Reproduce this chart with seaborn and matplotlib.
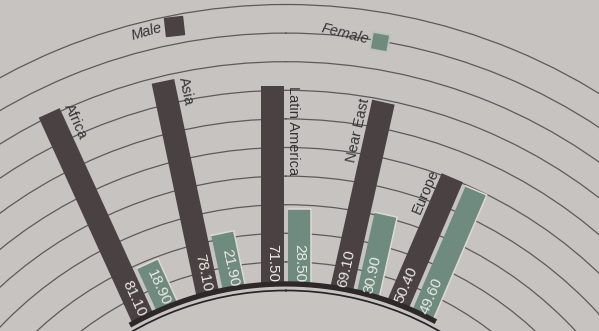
import numpy as np
import matplotlib
matplotlib.use("Agg")
import matplotlib.pyplot as plt
import seaborn as sns
from matplotlib.markers import MarkerStyle
from matplotlib.transforms import Affine2D

# ---------------- data ----------------
regions = ["Africa", "Asia", "Latin America", "Near East", "Europe"]
male = [81.10, 78.10, 71.50, 69.10, 50.40]
female = [18.90, 21.90, 28.50, 30.90, 49.60]
male_labels = ["81.10", "78.10", "71.50", "69.10", "50.40"]
female_labels = ["18.90", "21.90", "28.50", "30.90", "49.60"]
series = ["Male", "Female"]
grid_values = list(range(10, 101, 10))

# ---------------- layout ----------------
group_angles = [-24.5, -11.9, 0.0, 12.6, 23.2]   # degrees, clockwise from up
PX = 2.86                 # pixels per data unit
ORIGIN = -309.5 / PX      # radial origin (value at centre)
CX, CY = 286, 600         # centre of the arcs in pixels (from top-left)
W, H = 599, 331
RMAX = 140
BASE = 1.5
MALE_LAT = (-25.0, -2.0)  # lateral extent of bars in px
FEM_LAT = (2.0, 25.0)

sns.set_theme(style="white")
plt.rcParams["font.family"] = ["Liberation Sans", "DejaVu Sans"]

bg = "#c7c3c0"
male_c, fem_c = sns.color_palette(["#4a4242", "#6f8a7e"])
ink = "#363232"
val_c = "#ebeae3"

fig = plt.figure(figsize=(W / 100, H / 100), dpi=100, facecolor=bg)
Rpx = (RMAX - ORIGIN) * PX
ax = fig.add_axes([(CX - Rpx) / W, (H - CY - Rpx) / H, 2 * Rpx / W, 2 * Rpx / H],
                  projection="polar")
ax.set_facecolor(bg)
ax.set_theta_zero_location("N")
ax.set_theta_direction(-1)


def to_polar(phi, s_u, l_u):
    th = np.radians(phi) + np.arctan2(l_u, s_u)
    r = np.hypot(s_u, l_u) + ORIGIN
    return th, r


def draw_bar(phi, lat, value, color, highlight=False):
    s0, s1 = BASE - ORIGIN, value - ORIGIN
    l0, l1 = lat[0] / PX, lat[1] / PX
    S = np.array([s0, s1, s1, s0])
    L = np.array([l0, l0, l1, l1])
    th, r = to_polar(phi, S, L)
    ax.fill(th, r, color=color, lw=0, zorder=3)
    if highlight:
        n = 30
        s_edge = np.concatenate([np.full(n, s1), np.linspace(s1, s0, n)])
        l_edge = np.concatenate([np.linspace(l0, l1, n), np.full(n, l1)])
        th, r = to_polar(phi, s_edge, l_edge)
        ax.plot(th, r, color="#dcdbd2", lw=1.1, zorder=3.5)


for i, reg in enumerate(regions):
    phi = group_angles[i]
    draw_bar(phi, MALE_LAT, male[i], male_c)
    draw_bar(phi, FEM_LAT, female[i], fem_c, highlight=True)

    # category label
    top = male[i] - ORIGIN
    if phi <= 0:
        th, r = to_polar(phi, top, 0.0 / PX)
        ax.text(th, r, reg, rotation=-90 - phi, rotation_mode="anchor",
                ha="left", va="bottom", fontsize=10.5, color=ink, zorder=5)
    else:
        th, r = to_polar(phi, top, MALE_LAT[0] / PX - 0.2)
        ax.text(th, r, reg, rotation=90 - phi, rotation_mode="anchor",
                ha="right", va="bottom", fontsize=10.5, color=ink, zorder=5)

    # value labels inside the bars
    s_lab = BASE - ORIGIN + 4 / PX
    for vals, lab, lat in ((male, male_labels, MALE_LAT), (female, female_labels, FEM_LAT)):
        lc = (lat[0] + lat[1]) / 2 / PX
        th, r = to_polar(phi, s_lab, lc)
        if phi <= 0:
            ax.text(th, r, lab[i], rotation=-90 - phi, rotation_mode="anchor",
                    ha="right", va="center", fontsize=11, color=val_c, zorder=5)
        else:
            ax.text(th, r, lab[i], rotation=90 - phi, rotation_mode="anchor",
                    ha="left", va="center", fontsize=11, color=val_c, zorder=5)

# baseline arc
arc_t = np.radians(np.linspace(-29.6, 28.3, 300))
ax.plot(arc_t, np.full(arc_t.size, 2.3), color="#2e2828", lw=3.8,
        solid_capstyle="butt", zorder=4)

# legend on the arcs
ax.text(np.radians(-13.8), 96.3, series[0], rotation=16, ha="center", va="center",
        fontsize=10.5, style="italic", color=ink, zorder=5)
ax.plot(np.radians(-11.0), 96.3, marker=MarkerStyle("s", transform=Affine2D().rotate_deg(8)),
        ms=13, color=male_c, mec=male_c, ls="none", zorder=5)
ax.text(np.radians(6.0), 90.6, series[1], rotation=-14, ha="center", va="center",
        fontsize=10.5, style="italic", color=ink, zorder=5)
ax.plot(np.radians(9.6), 89.5, marker=MarkerStyle("s", transform=Affine2D().rotate_deg(-10)),
        ms=13, color=fem_c, mec="#b9c2b8", mew=1.2, ls="none", zorder=5)

# grid arcs
ax.set_rlim(0, RMAX)
ax.set_rorigin(ORIGIN)
ax.set_rticks(grid_values)
ax.set_yticklabels([])
ax.set_xticks([])
ax.yaxis.grid(True, color="#5e5a59", linewidth=0.9)
ax.xaxis.grid(False)
for sp in ax.spines.values():
    sp.set_visible(False)

fig.savefig("out.png", dpi=100, facecolor=bg)
